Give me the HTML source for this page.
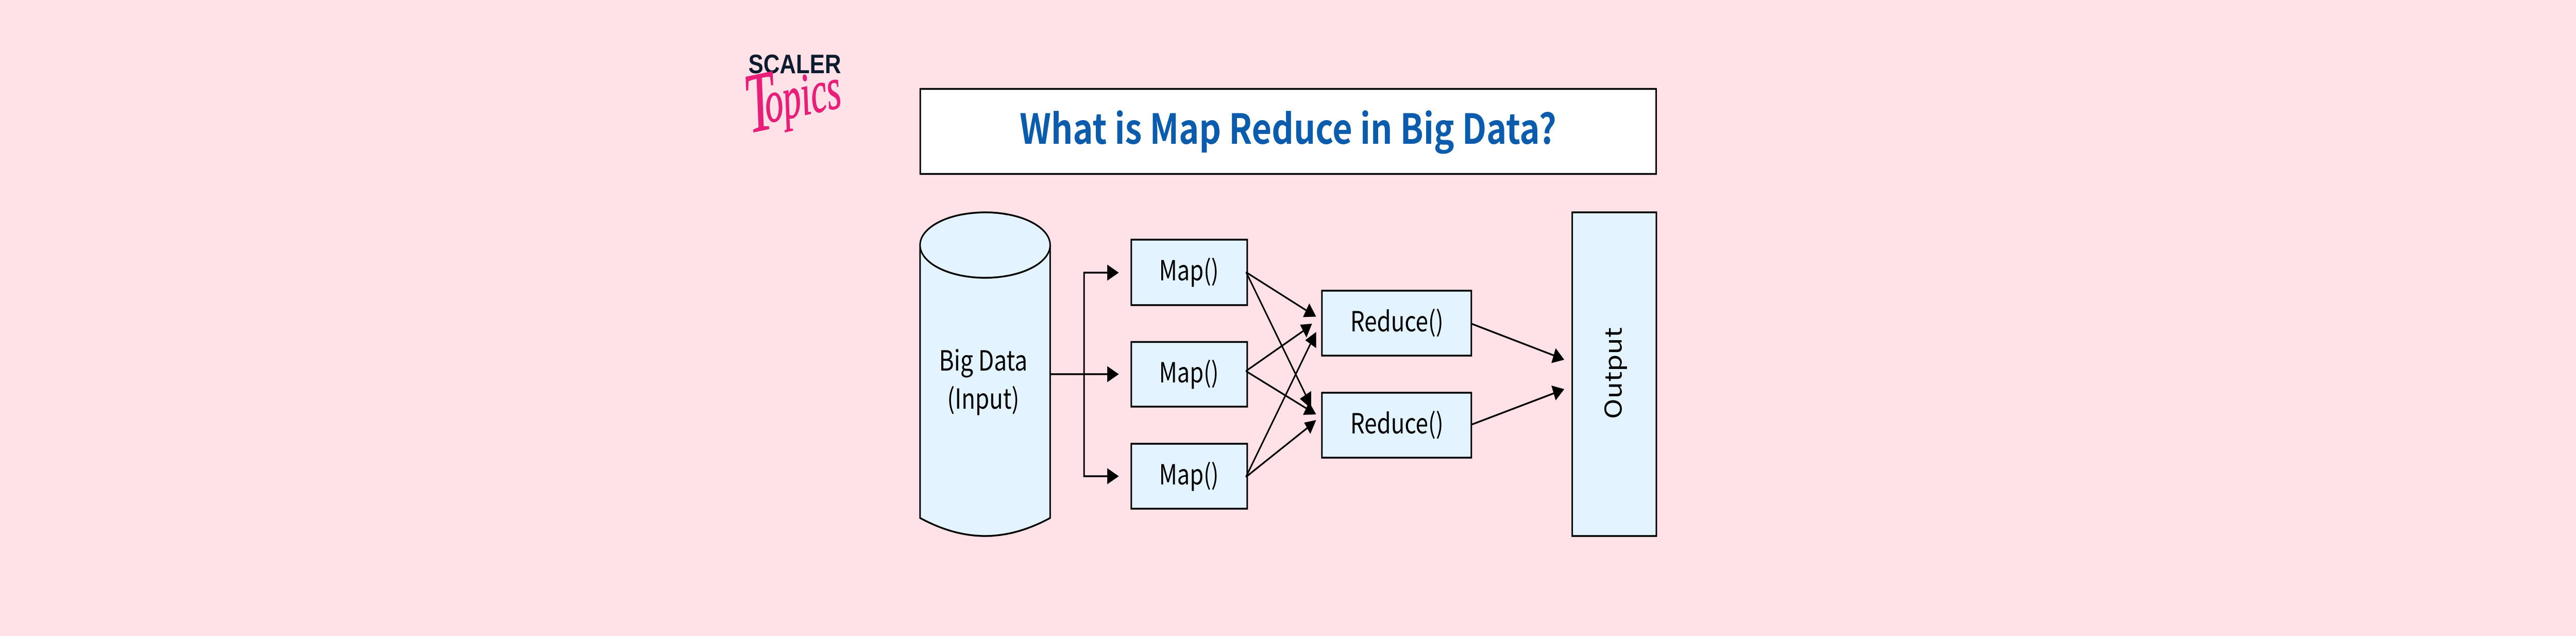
<!DOCTYPE html>
<html><head><meta charset="utf-8"><style>
html,body{margin:0;padding:0;background:#ffe2e7;width:100%;height:100%;overflow:hidden}
svg{display:block;position:fixed;left:0;top:0;width:100vw;height:100vh}
text{font-family:"Noto Sans CJK JP","Liberation Sans",sans-serif;fill:#000}
</style></head><body>
<svg viewBox="0 0 6000 1234" preserveAspectRatio="none" xmlns="http://www.w3.org/2000/svg">
<rect width="6000" height="1234" fill="#ffe2e7"/>
<!-- logo -->
<text x="1743" y="142" font-size="52" textLength="216" lengthAdjust="spacingAndGlyphs" style="font-family:'Liberation Sans',sans-serif;font-weight:700;fill:#0d1b2e">SCALER</text>
<text transform="translate(1745,258) rotate(-10) scale(0.73,1)" stroke="#e91e78" stroke-width="1.5" style="font-family:'Liberation Serif',serif;font-style:italic;fill:#e91e78"><tspan font-size="165">T</tspan><tspan font-size="116" dx="-30" dy="-12">opics</tspan></text>
<!-- title -->
<rect x="2143.5" y="172.5" width="1714" height="165" fill="#fff" stroke="#000" stroke-width="3.5"/>
<text x="2375" y="279" font-size="80" textLength="1250" lengthAdjust="spacingAndGlyphs" style="font-weight:700;fill:#0b5cad">What is Map Reduce in Big Data?</text>
<!-- cylinder -->
<path d="M2143 475.5 V1005 Q2220 1040 2294.5 1040 Q2369 1040 2446 1005 V475.5" fill="#e3f3ff" stroke="#000" stroke-width="3.5"/>
<ellipse cx="2294.5" cy="475.5" rx="151.5" ry="63.5" fill="#e3f3ff" stroke="#000" stroke-width="3.5"/>
<text x="2187" y="719" font-size="54" textLength="206" lengthAdjust="spacingAndGlyphs">Big Data</text>
<text x="2206" y="793" font-size="54" textLength="168" lengthAdjust="spacingAndGlyphs">(Input)</text>
<!-- map boxes -->
<g fill="#e3f3ff" stroke="#000" stroke-width="3.5">
<rect x="2635" y="465" width="270" height="127"/>
<rect x="2635" y="663.5" width="270" height="125.5"/>
<rect x="2635" y="861" width="270" height="126"/>
<rect x="3079" y="564" width="348" height="126"/>
<rect x="3079" y="762" width="348" height="126"/>
<rect x="3662" y="412" width="196" height="628"/>
</g>
<text x="2699.5" y="544" font-size="54" textLength="139" lengthAdjust="spacingAndGlyphs">Map()</text>
<text x="2699.5" y="742" font-size="54" textLength="139" lengthAdjust="spacingAndGlyphs">Map()</text>
<text x="2699.5" y="940" font-size="54" textLength="139" lengthAdjust="spacingAndGlyphs">Map()</text>
<text x="3145" y="643" font-size="54" textLength="217" lengthAdjust="spacingAndGlyphs">Reduce()</text>
<text x="3145" y="841" font-size="54" textLength="217" lengthAdjust="spacingAndGlyphs">Reduce()</text>
<text transform="translate(3777,813) rotate(-90)" font-size="54" textLength="178" lengthAdjust="spacingAndGlyphs">Output</text>
<!-- connectors -->
<g fill="none" stroke="#000" stroke-width="3.5">
<path d="M2446 726 H2585"/>
<path d="M2585 529 H2525 V924 H2585"/>
<path d="M2902 528 L3044 603"/>
<path d="M2902 720 L3037.5 641"/>
<path d="M2902 925.5 L3053 666"/>
<path d="M2903 529 L3044 771"/>
<path d="M2902 720 L3044 793"/>
<path d="M2902 925.5 L3045.5 830"/>
<path d="M3427 628 L3623.5 691"/>
<path d="M3427 824 L3623.5 761.7"/>
</g>
<g fill="#000">
<polygon points="2606,529 2579,513.4 2579,544.6"/>
<polygon points="2606,726 2579,710.4 2579,741.6"/>
<polygon points="2606,924 2579,908.4 2579,939.6"/>
<polygon points="3065.6,614.4 3049.6,588.5 3034.8,615.3"/>
<polygon points="3056,628 3028,630 3043,655"/>
<polygon points="3065.6,644 3040,660 3065.6,675.5"/>
<polygon points="3054,758.6 3027.5,773.8 3054,793"/>
<polygon points="3065.6,804 3049,779.6 3035,805"/>
<polygon points="3065.6,815 3037.5,820 3052,842"/>
<polygon points="3643.5,698 3623.5,675.5 3613.4,704.5"/>
<polygon points="3643.5,755 3613.4,748 3623.5,777"/>
</g>
</svg>
</body></html>
